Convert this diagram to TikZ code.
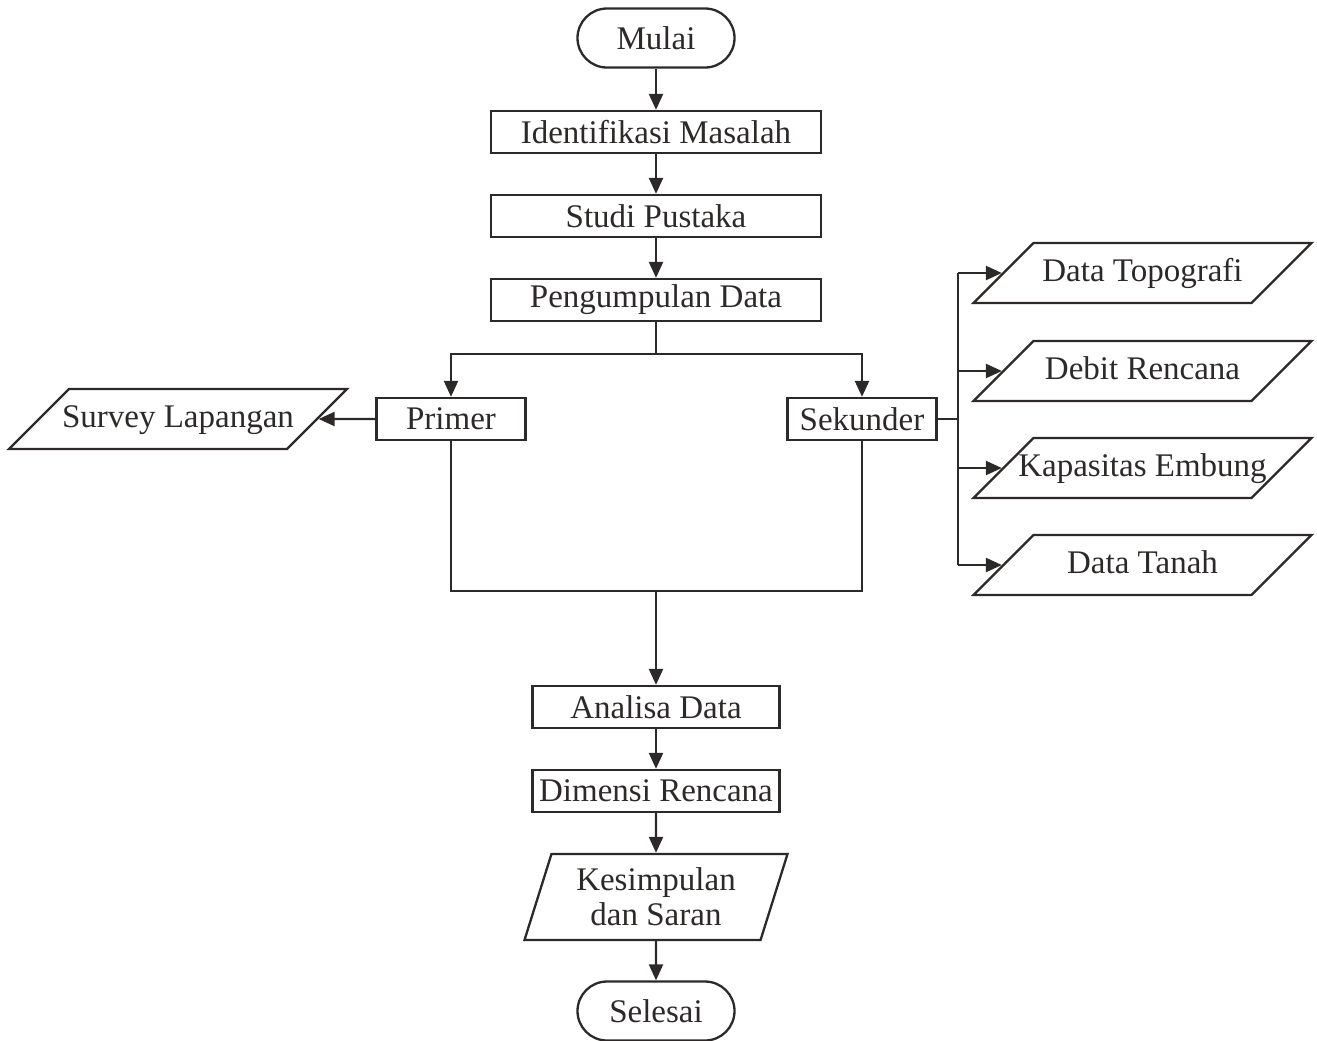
\documentclass[tikz,border=0pt]{standalone}
\usepackage{fontspec}
\setmainfont{Liberation Serif}
\usetikzlibrary{arrows.meta,shapes.geometric,shapes.misc}
\definecolor{inkgray}{RGB}{45,41,41}
\tikzset{
  base/.style={draw=inkgray,text=inkgray,line width=1.15pt,font=\fontsize{16.5}{17.5}\selectfont,align=center},
  termbox/.style={base,rounded rectangle,minimum width=78.5pt,minimum height=29.5pt,inner sep=0pt},
  stepbox/.style={base,rectangle,minimum height=21pt,inner sep=0pt},
  iobox/.style={base,trapezium,trapezium left angle=45,trapezium right angle=135,trapezium stretches body,minimum width=169pt,text height=11.5pt,text depth=3.5pt,inner xsep=-12pt,inner ysep=7.5pt},
  flow/.style={draw=inkgray,line width=1.15pt,-{Triangle[length=8pt,width=7pt]}},
  wire/.style={draw=inkgray,line width=1.15pt},
}

\begin{document}
\begin{tikzpicture}[x=0.5pt,y=0.5pt,yscale=-1,xscale=1]
%set diagram frame to the page size
\useasboundingbox (0,0) rectangle (1317,1040);

%Shape: Terminator [id:mulai]
\node[termbox] (mulai) at (656,38) {Mulai};
%Shape: Process boxes
\node[stepbox,minimum width=165pt] (identifikasi) at (656,132) {Identifikasi Masalah};
\node[stepbox,minimum width=165pt] (studi) at (656,216) {Studi Pustaka};
\node[stepbox,minimum width=165pt] (pengumpulan) at (656,300) {Pengumpulan Data};
\node[stepbox,minimum width=74.5pt] (primer) at (451,419) {Primer};
\node[stepbox,minimum width=74.5pt] (sekunder) at (862,419) {Sekunder};
%Shape: Data boxes
\node[iobox] (survey) at (178,419) {Survey Lapangan};
\node[iobox] (topografi) at (1142.5,273) {Data Topografi};
\node[iobox] (debit) at (1142.5,371) {Debit Rencana};
\node[iobox] (kapasitas) at (1142.5,468) {Kapasitas Embung};
\node[iobox] (tanah) at (1142.5,565) {Data Tanah};
%Shape: Process boxes, lower part
\node[stepbox,minimum width=123.5pt] (analisa) at (656,707) {Analisa Data};
\node[stepbox,minimum width=123.5pt] (dimensi) at (656,791) {Dimensi Rencana};
\node[base,trapezium,trapezium left angle=69,trapezium right angle=111,trapezium stretches body,minimum width=131.5pt,minimum height=43pt,inner sep=3pt] (kesimpulan) at (656,897) {Kesimpulan\\dan Saran};
%Shape: Terminator [id:selesai]
\node[termbox] (selesai) at (656,1011) {Selesai};

%Branch and join points
\coordinate (split) at (656,354);
\coordinate (bus) at (958,419);
\coordinate (join) at (656,591);

%Straight Lines
\draw[flow] (mulai.south) -- (identifikasi.north);
\draw[flow] (identifikasi.south) -- (studi.north);
\draw[flow] (studi.south) -- (pengumpulan.north);
\draw[wire] (pengumpulan.south) -- (split);
\draw[flow] (split) -| (primer.north);
\draw[flow] (split) -| (sekunder.north);
\draw[flow] (primer.west) -- (survey.east);
\draw[wire] (sekunder.east) -- (bus);
\draw[wire] (bus |- topografi.west) -- (bus |- tanah.west);
\draw[flow] (bus |- topografi.west) -- (topografi.west);
\draw[flow] (bus |- debit.west) -- (debit.west);
\draw[flow] (bus |- kapasitas.west) -- (kapasitas.west);
\draw[flow] (bus |- tanah.west) -- (tanah.west);
\draw[wire] (primer.south) |- (join);
\draw[wire] (sekunder.south) |- (join);
\draw[flow] (join) -- (analisa.north);
\draw[flow] (analisa.south) -- (dimensi.north);
\draw[flow] (dimensi.south) -- (kesimpulan.north);
\draw[flow] (kesimpulan.south) -- (selesai.north);

\end{tikzpicture}
\end{document}
